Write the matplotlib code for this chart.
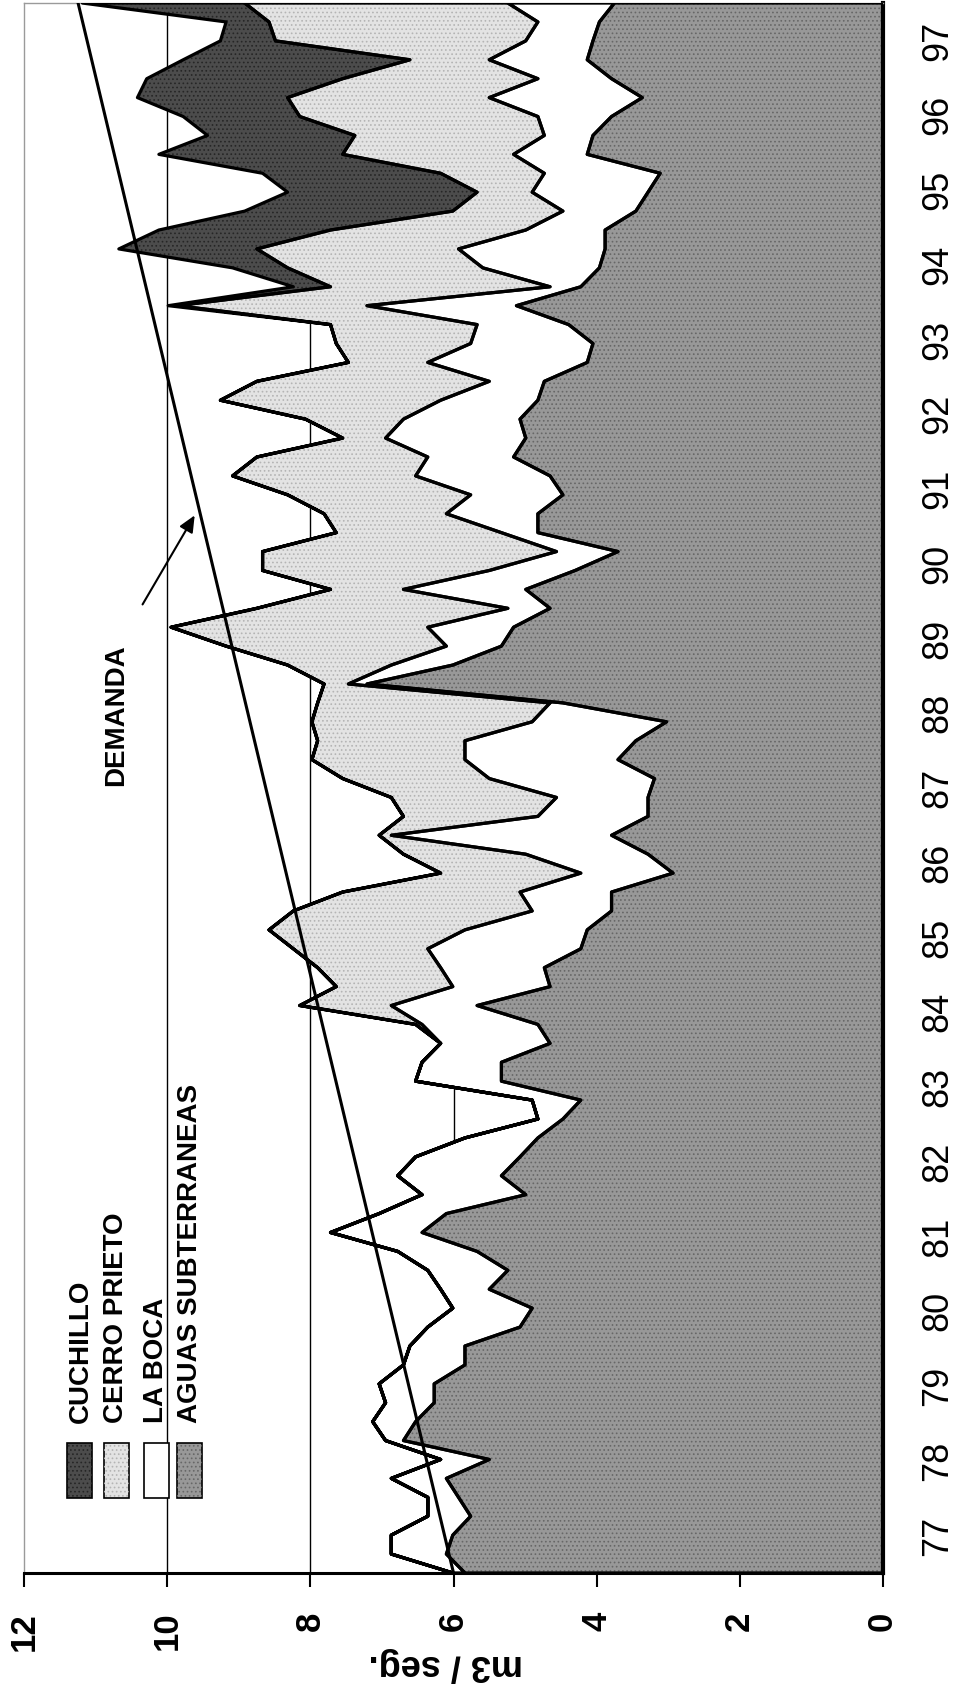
import numpy as np
import matplotlib.pyplot as plt
from matplotlib.patches import Rectangle

plt.rcParams['font.family'] = ['Liberation Sans', 'DejaVu Sans']
plt.rcParams['hatch.linewidth'] = 0.7

# Datos trimestrales 1977-1997 (m3/seg)
trimestres = np.linspace(76.5, 97.5, 84)

aguas_subterraneas = [5.84, 6.10, 6.01, 5.76, 5.93, 6.10, 5.50, 6.70, 6.53, 6.27,
                      6.27, 5.84, 5.84, 5.07, 4.90, 5.50, 5.24, 5.67, 6.44, 6.10,
                      4.99, 5.33, 5.07, 4.82, 4.47, 4.22, 5.33, 5.33, 4.65, 4.82,
                      5.67, 4.65, 4.73, 4.22, 4.13, 3.79, 3.79, 2.93, 3.28, 3.79,
                      3.28, 3.28, 3.19, 3.70, 3.45, 3.02, 4.47, 7.21, 6.01, 5.33,
                      5.16, 4.65, 4.99, 4.30, 3.70, 4.82, 4.82, 4.47, 4.65, 5.16,
                      4.99, 5.07, 4.82, 4.73, 4.13, 4.05, 4.39, 5.12, 4.22, 3.96,
                      3.88, 3.88, 3.45, 3.28, 3.11, 4.13, 4.05, 3.79, 3.36, 3.79,
                      4.13, 4.05, 3.96, 3.75]

la_boca = [0.17, 0.77, 0.86, 0.60, 0.43, 0.77, 0.68, 0.25, 0.60, 0.68,
           0.77, 0.86, 0.77, 1.29, 1.11, 0.68, 1.12, 1.11, 1.28, 0.94,
           1.45, 1.45, 1.46, 1.02, 0.35, 0.68, 1.20, 1.11, 1.53, 1.62,
           1.20, 1.36, 1.45, 2.14, 1.71, 1.11, 1.28, 1.29, 1.71, 3.08,
           1.54, 1.28, 2.31, 2.14, 2.39, 1.88, 0.18, 0.26, 0.86, 0.77,
           1.20, 0.59, 1.71, 1.20, 0.86, 0.51, 1.28, 1.29, 1.88, 1.20,
           1.96, 1.63, 1.36, 0.77, 2.23, 1.71, 1.28, 2.09, 0.43, 1.63,
           2.05, 1.11, 1.02, 1.62, 1.62, 1.03, 0.68, 1.03, 2.14, 1.03,
           1.37, 0.94, 0.86, 1.49]

cerro_prieto = [0.0] * 29 + [
    0.09, 1.28, 1.63, 1.72, 1.88, 2.74, 3.34, 2.48, 1.96, 1.71,
    0.17, 1.88, 2.31, 2.05, 2.14, 2.06, 3.08, 3.25, 0.34, 1.45,
    3.08, 3.59, 3.51, 1.02, 3.17, 4.11, 2.31, 1.71, 2.56, 2.56,
    2.39, 0.60, 1.37, 3.08, 3.25, 1.11, 1.88, 2.05, 2.65, 3.07,
    2.73, 2.82, 2.73, 1.54, 0.77, 1.45, 2.39, 2.65, 3.33, 2.82,
    2.73, 1.11, 3.50, 3.76, 3.68]

cuchillo = [0.0] * 67 + [0.13, 0.52, 0.77, 1.93, 2.40, 2.91, 2.65, 2.49, 2.57,
                         2.06, 1.63, 2.10, 2.74, 3.17, 0.77, 0.60, 2.27]

demanda_anios = [76.5, 97.5]
demanda = [6.0, 11.25]

anios = list(range(77, 98))
valores_ticks = [0, 2, 4, 6, 8, 10, 12]

# nombre, valores, relleno, color de la trama (None = sin trama)
series = [('AGUAS SUBTERRANEAS', aguas_subterraneas, '#989898', '#676767'),
          ('LA BOCA', la_boca, 'white', None),
          ('CERRO PRIETO', cerro_prieto, '#e3e3e3', '#b4b4b4'),
          ('CUCHILLO', cuchillo, '#4c4c4c', '#262626')]

fig = plt.figure(figsize=(9.59, 16.89), dpi=100)
ax = fig.add_axes([0.0255, 0.0687, 0.8948, 0.9295])

# areas apiladas (grafico girado: tiempo en vertical, caudal en horizontal)
base = np.zeros(len(trimestres))
for nombre, vals, color, trama in series:
    tope = base + np.array(vals)
    if trama:
        plt.rcParams['hatch.color'] = trama
        ax.fill_betweenx(trimestres, base, tope, facecolor=color, edgecolor=trama,
                         linewidth=0, hatch='....', zorder=2)
    else:
        ax.fill_betweenx(trimestres, base, tope, facecolor=color, linewidth=0,
                         zorder=2)
    ax.fill_betweenx(trimestres, base, tope, facecolor='none', edgecolor='black',
                     linewidth=2.3, zorder=3)
    base = tope

ax.plot(demanda, demanda_anios, color='black', linewidth=2.2, zorder=5)

ax.set_xlim(12, 0)
ax.set_ylim(76.5, 97.5)

for v in [2, 4, 6, 8, 10]:
    ax.axvline(v, color='black', linewidth=1.0, zorder=1)

ax.set_xticks(valores_ticks)
ax.set_xticklabels([str(v) for v in valores_ticks], rotation=90, fontsize=25,
                   fontweight='bold')
ax.tick_params(axis='x', direction='out', length=10, width=1.5, pad=18)

ax.yaxis.tick_right()
ax.set_yticks(anios)
ax.set_yticklabels([str(a) for a in anios], rotation=90, fontsize=26,
                   va='center')
ax.tick_params(axis='y', length=0, pad=27)

for lado in ['left', 'top']:
    ax.spines[lado].set_color('#9a9a9a')
    ax.spines[lado].set_linewidth(1.0)
ax.spines['right'].set_linewidth(3.0)
ax.spines['bottom'].set_linewidth(2.2)

fig.text(0.465, 0.0145, 'm3 / seg.', rotation=180, ha='center', va='center',
         fontsize=26, fontweight='bold')

# leyenda girada
ley_x = [0.0495, 0.0927, 0.139, 0.178]
ley_txt_x = [0.066, 0.107, 0.153, 0.193]
for (nombre, vals, color, trama), sx, tx in zip(series[::-1], ley_x, ley_txt_x):
    ax.add_patch(Rectangle((sx, 0.0478), 0.029, 0.035, transform=ax.transAxes,
                           facecolor=color, edgecolor='black', linewidth=1.2,
                           zorder=6))
    if trama:
        plt.rcParams['hatch.color'] = trama
        ax.add_patch(Rectangle((sx, 0.0478), 0.029, 0.035, transform=ax.transAxes,
                               facecolor='none', edgecolor=trama, hatch='....',
                               linewidth=0, zorder=6))
    ax.text(tx, 0.0955, nombre, transform=ax.transAxes, rotation=90,
            ha='center', va='bottom', fontsize=20, fontweight='bold', zorder=6)

ax.text(0.107, 0.5465, 'DEMANDA', transform=ax.transAxes, rotation=90,
        ha='center', va='center', fontsize=20, fontweight='bold', zorder=6)
ax.annotate('', xy=(0.2, 0.6752), xytext=(0.136, 0.6154),
            xycoords='axes fraction', textcoords='axes fraction',
            arrowprops=dict(arrowstyle='-|>,head_length=1.0,head_width=0.45',
                            color='black', linewidth=1.5))

fig.savefig('out.png', dpi=100)
